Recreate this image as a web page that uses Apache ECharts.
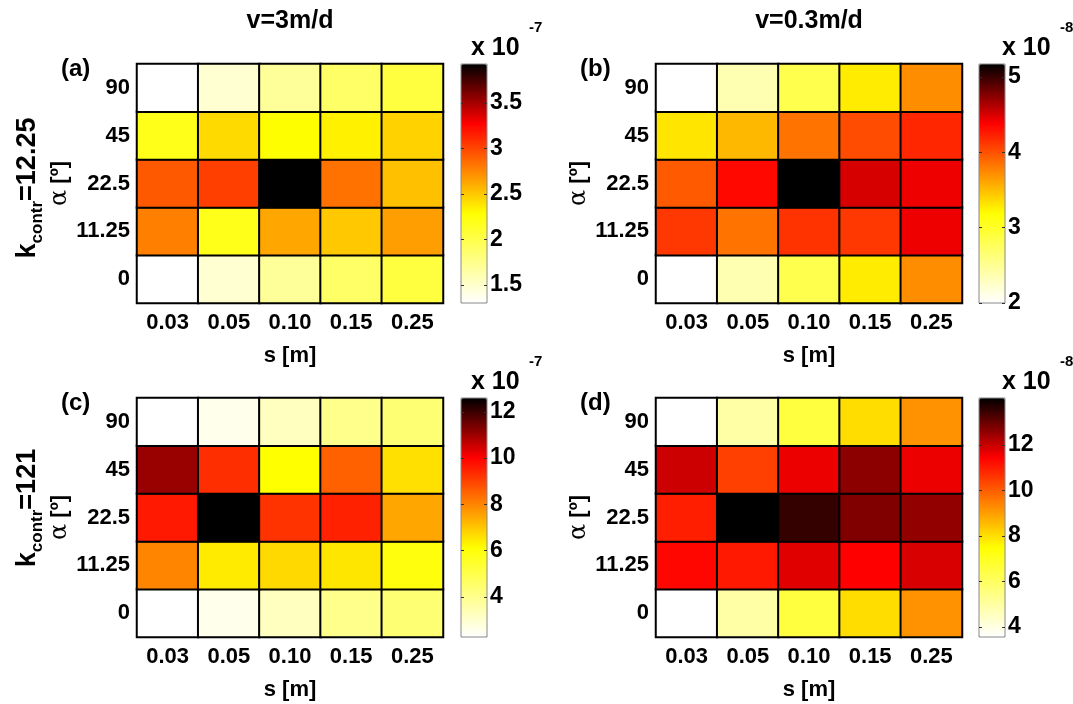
<!DOCTYPE html>
<html>
<head>
<meta charset="utf-8">
<script src="https://cdn.jsdelivr.net/npm/echarts@6/dist/echarts.min.js"></script>
<style>html,body{margin:0;padding:0;background:#fff}#c{width:1073px;height:704px}</style>
</head>
<body>
<div id="c"></div>
<script>
// ---- data ----
const sLabels = ['0.03', '0.05', '0.10', '0.15', '0.25'];
const alphaLabels = ['0', '11.25', '22.5', '45', '90']; // bottom to top
const colTitles = ['v=3m/d', 'v=0.3m/d'];
const rowTitles = ['12.25', '121'];
const panelLetters = ['(a)', '(b)', '(c)', '(d)'];
const exponents = ['-7', '-8', '-7', '-8'];
// rows listed from alpha = 0 (bottom) to alpha = 90 (top)
const valsA = [
  [1.30, 1.48, 1.69, 1.89, 2.04],
  [2.78, 2.19, 2.63, 2.50, 2.66],
  [2.93, 3.03, 3.93, 2.83, 2.53],
  [2.19, 2.43, 2.29, 2.34, 2.46],
  [1.30, 1.48, 1.69, 1.89, 2.04]
];
const valsB = [
  [2.00, 2.36, 2.83, 3.28, 3.72],
  [4.12, 3.84, 4.14, 4.12, 4.43],
  [3.96, 4.34, 5.17, 4.50, 4.43],
  [3.31, 3.52, 3.84, 4.02, 4.20],
  [2.00, 2.36, 2.83, 3.28, 3.72]
];
const valsC = [
  [2.27, 2.58, 3.24, 4.01, 4.40],
  [8.00, 6.45, 6.72, 6.53, 5.95],
  [9.63, 12.60, 9.24, 9.51, 7.50],
  [11.05, 9.32, 6.14, 8.55, 6.61],
  [2.27, 2.58, 3.24, 4.01, 4.40]
];
const valsD = [
  [3.56, 4.94, 6.51, 8.02, 9.19],
  [11.36, 11.05, 11.76, 11.44, 11.84],
  [10.97, 14.07, 13.54, 12.76, 12.55],
  [11.97, 10.46, 11.63, 12.62, 11.63],
  [3.56, 4.94, 6.51, 8.02, 9.19]
];
const rangeA = [1.30, 3.93], rangeB = [2.00, 5.17], rangeC = [2.27, 12.60], rangeD = [3.56, 14.07];
const ticksA = [1.5, 2, 2.5, 3, 3.5];
const ticksB = [2, 3, 4, 5];
const ticksC = [4, 6, 8, 10, 12];
const ticksD = [4, 6, 8, 10, 12];

// ---- styling / layout ----
const FF = '"Liberation Sans", Arial, Helvetica, sans-serif';
// inverted "hot" style colormap: white -> yellow -> red -> black
function cmapAt(t) {
  let r, g, b;
  if (t <= 0.375) { r = 1; g = 1; b = 1 - t / 0.375; }
  else if (t <= 0.75) { r = 1; g = 1 - (t - 0.375) / 0.375; b = 0; }
  else { r = 1 - (t - 0.75) / 0.25; g = 0; b = 0; }
  const h = v => Math.round(Math.max(0, Math.min(1, v)) * 255).toString(16).padStart(2, '0');
  return '#' + h(r) + h(g) + h(b);
}
const cmap = [];
for (let i = 0; i <= 64; i++) cmap.push(cmapAt(i / 64));

const panels = [
  {vals: valsA, range: rangeA, ticks: ticksA, left: 137, top: 64, cbLeft: 461, xLeft: 471},
  {vals: valsB, range: rangeB, ticks: ticksB, left: 656, top: 64, cbLeft: 979, xLeft: 1002},
  {vals: valsC, range: rangeC, ticks: ticksC, left: 137, top: 398, cbLeft: 461, xLeft: 471},
  {vals: valsD, range: rangeD, ticks: ticksD, left: 656, top: 398, cbLeft: 979, xLeft: 1002}
];
const GW = 306, GH = 239, CBW = 26;

const grid = [], xAxis = [], yAxis = [], series = [], visualMap = [], graphic = [];
const lblStyle = {color: '#000', fontSize: 22, fontWeight: 'bold', fontFamily: FF};

panels.forEach((p, i) => {
  grid.push({left: p.left, top: p.top, width: GW, height: GH, containLabel: false});
  xAxis.push({
    gridIndex: i, type: 'category', data: sLabels,
    axisLine: {show: true, lineStyle: {color: '#000', width: 2}},
    axisTick: {show: false}, splitLine: {show: false},
    axisLabel: Object.assign({margin: 9}, lblStyle),
    name: 's [m]', nameLocation: 'middle', nameGap: 42,
    nameTextStyle: lblStyle
  });
  yAxis.push({
    gridIndex: i, type: 'category', data: alphaLabels,
    axisLine: {show: true, lineStyle: {color: '#000', width: 2}},
    axisTick: {show: false}, splitLine: {show: false},
    axisLabel: Object.assign({margin: 7}, lblStyle),
    name: '{a|α} [º]', nameLocation: 'middle', nameGap: 60, nameRotate: 90,
    nameTextStyle: Object.assign({}, lblStyle, {rich: {a: {fontFamily: '"DejaVu Serif", serif', fontWeight: 'normal', fontSize: 24, color: '#000'}}})
  });
  const data = [];
  p.vals.forEach((row, yi) => row.forEach((v, xi) => data.push([xi, yi, v])));
  series.push({
    type: 'heatmap', xAxisIndex: i, yAxisIndex: i, data: data,
    itemStyle: {borderColor: '#000', borderWidth: 2},
    emphasis: {disabled: true}
  });
  visualMap.push({
    type: 'continuous', seriesIndex: i, min: p.range[0], max: p.range[1],
    calculable: false, hoverLink: false, orient: 'vertical',
    left: p.cbLeft, top: p.top, itemWidth: CBW, itemHeight: GH, padding: 0,
    inRange: {color: cmap}
  });
});

// colorbar tick axes
panels.forEach((p, i) => {
  const gi = 4 + i;
  grid.push({left: p.cbLeft, top: p.top, width: CBW, height: GH, show: true,
    borderColor: '#888', borderWidth: 1, backgroundColor: 'transparent', z: 10});
  xAxis.push({gridIndex: gi, type: 'category', data: ['c'], show: false});
  yAxis.push({
    gridIndex: gi, type: 'value', min: p.range[0], max: p.range[1], position: 'right',
    axisLine: {show: false}, splitLine: {show: false},
    axisTick: {show: true, inside: true, length: 3, customValues: p.ticks, lineStyle: {color: '#333'}},
    axisLabel: Object.assign({margin: 3, customValues: p.ticks}, lblStyle, {fontSize: 23}), z: 12
  });
  yAxis.push({
    gridIndex: gi, type: 'value', min: p.range[0], max: p.range[1], position: 'left',
    axisLine: {show: false}, splitLine: {show: false},
    axisTick: {show: true, inside: true, length: 3, customValues: p.ticks, lineStyle: {color: '#333'}},
    axisLabel: {show: false}, z: 12
  });
  series.push({type: 'line', xAxisIndex: gi, yAxisIndex: yAxis.length - 2, data: [], silent: true});
  // "x 10^n" multiplier
  graphic.push({type: 'text', left: p.xLeft, top: p.top - 28,
    style: {text: 'x 10', fill: '#000', font: 'bold 25px ' + FF}});
  graphic.push({type: 'text', left: p.xLeft + 58, top: p.top - 44,
    style: {text: exponents[i], fill: '#000', font: 'bold 15px ' + FF}});
  // panel letter
  graphic.push({type: 'text', left: p.left - 76, top: p.top - 7,
    style: {text: panelLetters[i], fill: '#000', font: 'bold 24px ' + FF}});
});

// column titles
graphic.push({type: 'text', x: 137 + GW / 2, y: 21,
  style: {text: colTitles[0], fill: '#000', font: 'bold 25px ' + FF, align: 'center', verticalAlign: 'middle'}});
graphic.push({type: 'text', x: 656 + GW / 2, y: 21,
  style: {text: colTitles[1], fill: '#000', font: 'bold 25px ' + FF, align: 'center', verticalAlign: 'middle'}});

// row titles (rotated)
[[188, rowTitles[0]], [508, rowTitles[1]]].forEach(([cy, t]) => {
  graphic.push({type: 'text', x: 25, y: cy, rotation: Math.PI / 2,
    style: {
      text: '{k|k}{s|contr}{k|=' + t + '}', align: 'center', verticalAlign: 'middle',
      rich: {
        k: {fontSize: 27, fontWeight: 'bold', fontFamily: FF, fill: '#000', lineHeight: 32, verticalAlign: 'bottom'},
        s: {fontSize: 17, fontWeight: 'bold', fontFamily: FF, fill: '#000', lineHeight: 32, verticalAlign: 'bottom', padding: [0, 0, -5, 0]}
      }
    }});
});

const chart = echarts.init(document.getElementById('c'), null, {renderer: 'canvas'});
chart.setOption({
  animation: false,
  backgroundColor: '#fff',
  grid, xAxis, yAxis, series, visualMap, graphic
});
</script>
</body>
</html>
